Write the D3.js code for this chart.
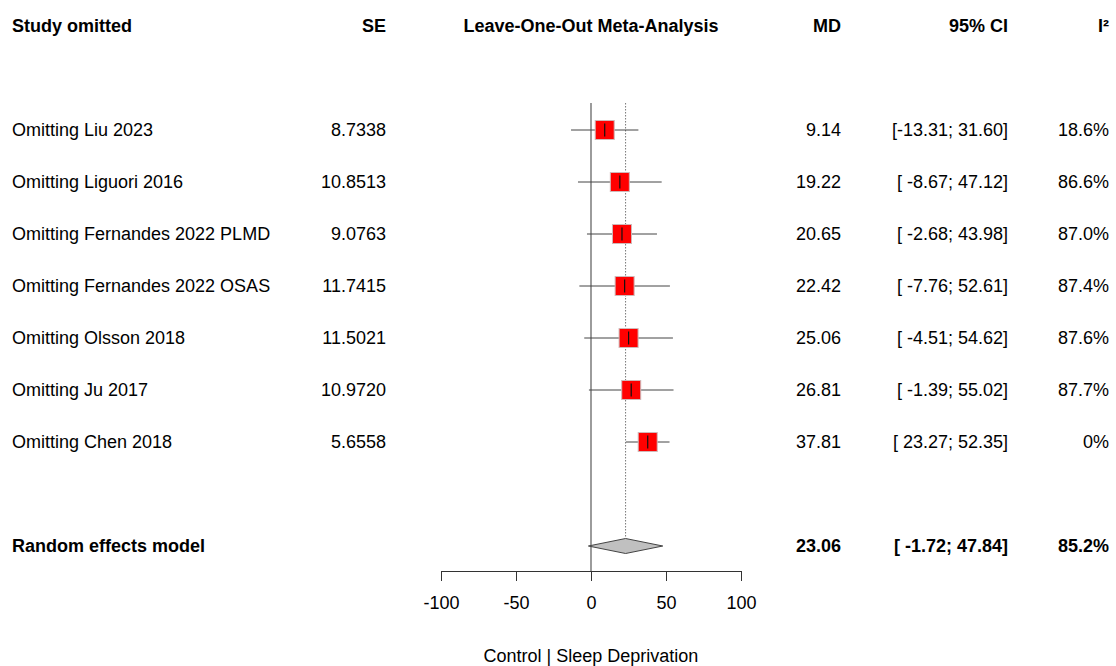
<!DOCTYPE html>
<html>
<head>
<meta charset="utf-8">
<script src="https://cdn.jsdelivr.net/npm/d3@7"></script>
<style>
  body { margin: 0; background: #fff; }
  svg text { font-family: "Liberation Sans", Arial, sans-serif; font-size: 18px; fill: #000; }
  .bold { font-weight: bold; }
</style>
</head>
<body>
<div id="chart"></div>
<script>
// data
const studies = ["Omitting Liu 2023", "Omitting Liguori 2016", "Omitting Fernandes 2022 PLMD",
  "Omitting Fernandes 2022 OSAS", "Omitting Olsson 2018", "Omitting Ju 2017", "Omitting Chen 2018"];
const seValues = [8.7338, 10.8513, 9.0763, 11.7415, 11.5021, 10.9720, 5.6558];
const mdValues = [9.14, 19.22, 20.65, 22.42, 25.06, 26.81, 37.81];
const lowerCI = [-13.31, -8.67, -2.68, -7.76, -4.51, -1.39, 23.27];
const upperCI = [31.60, 47.12, 43.98, 52.61, 54.62, 55.02, 52.35];
const i2Values = [18.6, 86.6, 87.0, 87.4, 87.6, 87.7, 0];

const pooled = { label: "Random effects model", md: 23.06, lower: -1.72, upper: 47.84, i2: 85.2 };
const axisTicks = [-100, -50, 0, 50, 100];
const headers = { study: "Study omitted", se: "SE", plot: "Leave-One-Out Meta-Analysis", md: "MD", ci: "95% CI", i2: "I²" };
const xLabel = "Control | Sleep Deprivation";

const W = 1116, H = 666;
const svg = d3.select("#chart").append("svg").attr("width", W).attr("height", H);

const x = d3.scaleLinear().domain([-100, 100]).range([441, 741]);
// row index: header = -2, studies 0..6, pooled = 8
const y = d3.scaleLinear().domain([0, 1]).range([130, 182]);

const col = { study: 12, se: 386, md: 841, ci: 1008, i2: 1109 };
const fmtCI = (lo, hi) => "[" + lo.toFixed(2).padStart(6, " ") + "; " + hi.toFixed(2) + "]";
const fmtI2 = v => v === 0 ? "0%" : v.toFixed(1) + "%";

// headers
const hy = y(-2);
const head = svg.append("g").attr("class", "bold");
head.append("text").attr("x", col.study).attr("y", hy).attr("dy", "0.35em").text(headers.study);
head.append("text").attr("x", col.se).attr("y", hy).attr("dy", "0.35em").attr("text-anchor", "end").text(headers.se);
head.append("text").attr("x", x(0)).attr("y", hy).attr("dy", "0.35em").attr("text-anchor", "middle").text(headers.plot);
head.append("text").attr("x", col.md).attr("y", hy).attr("dy", "0.35em").attr("text-anchor", "end").text(headers.md);
head.append("text").attr("x", col.ci).attr("y", hy).attr("dy", "0.35em").attr("text-anchor", "end").text(headers.ci);
head.append("text").attr("x", col.i2).attr("y", hy).attr("dy", "0.35em").attr("text-anchor", "end").text(headers.i2);

// zero line and pooled reference line
const axisY = 571;
svg.append("line")
  .attr("x1", x(0)).attr("x2", x(0)).attr("y1", 103).attr("y2", axisY)
  .attr("stroke", "#666").attr("stroke-width", 1.3);
svg.append("line")
  .attr("x1", x(pooled.md)).attr("x2", x(pooled.md)).attr("y1", 103).attr("y2", y(8) - 8)
  .attr("stroke", "#777").attr("stroke-width", 1).attr("stroke-dasharray", "1.5,1.5");

// study rows
const rows = svg.selectAll(".row").data(studies).enter().append("g").attr("class", "row");

rows.append("text").attr("x", col.study).attr("y", (d, i) => y(i)).attr("dy", "0.35em").text(d => d);
rows.append("text").attr("x", col.se).attr("y", (d, i) => y(i)).attr("dy", "0.35em")
  .attr("text-anchor", "end").text((d, i) => seValues[i].toFixed(4));
rows.append("text").attr("x", col.md).attr("y", (d, i) => y(i)).attr("dy", "0.35em")
  .attr("text-anchor", "end").text((d, i) => mdValues[i].toFixed(2));
rows.append("text").attr("x", col.ci).attr("y", (d, i) => y(i)).attr("dy", "0.35em")
  .attr("text-anchor", "end").text((d, i) => fmtCI(lowerCI[i], upperCI[i]));
rows.append("text").attr("x", col.i2).attr("y", (d, i) => y(i)).attr("dy", "0.35em")
  .attr("text-anchor", "end").text((d, i) => fmtI2(i2Values[i]));

rows.append("line")
  .attr("x1", (d, i) => x(lowerCI[i])).attr("x2", (d, i) => x(upperCI[i]))
  .attr("y1", (d, i) => y(i)).attr("y2", (d, i) => y(i))
  .attr("stroke", "#444").attr("stroke-width", 1);

const sq = 19;
rows.append("rect")
  .attr("x", (d, i) => x(mdValues[i]) - sq / 2).attr("y", (d, i) => y(i) - sq / 2)
  .attr("width", sq).attr("height", sq)
  .attr("fill", "#ff0000").attr("stroke", "#d0b8b8").attr("stroke-width", 1);

rows.append("line")
  .attr("x1", (d, i) => x(mdValues[i])).attr("x2", (d, i) => x(mdValues[i]))
  .attr("y1", (d, i) => y(i) - 6.5).attr("y2", (d, i) => y(i) + 6.5)
  .attr("stroke", "#111").attr("stroke-width", 1.2);

// pooled row
const py = y(8);
const pg = svg.append("g").attr("class", "bold");
pg.append("text").attr("x", col.study).attr("y", py).attr("dy", "0.35em").text(pooled.label);
pg.append("text").attr("x", col.md).attr("y", py).attr("dy", "0.35em").attr("text-anchor", "end").text(pooled.md.toFixed(2));
pg.append("text").attr("x", col.ci).attr("y", py).attr("dy", "0.35em").attr("text-anchor", "end").text(fmtCI(pooled.lower, pooled.upper));
pg.append("text").attr("x", col.i2).attr("y", py).attr("dy", "0.35em").attr("text-anchor", "end").text(fmtI2(pooled.i2));

const dh = 7.5;
svg.append("path")
  .attr("d", d3.line()([[x(pooled.lower), py], [x(pooled.md), py - dh], [x(pooled.upper), py], [x(pooled.md), py + dh]]) + "Z")
  .attr("fill", "#c0c0c0").attr("stroke", "#444").attr("stroke-width", 1);

// x axis
const axis = svg.append("g").attr("transform", `translate(0,${axisY})`)
  .call(d3.axisBottom(x).tickValues(axisTicks).tickFormat(d => String(d))
    .tickSize(10).tickPadding(15).tickSizeOuter(0));
axis.select(".domain").attr("stroke", "#333");
axis.selectAll(".tick line").attr("stroke", "#333");
axis.selectAll(".tick text").style("font-size", "18px").attr("fill", "#000")
  .style("font-family", "'Liberation Sans', Arial, sans-serif");

svg.append("text").attr("x", x(0)).attr("y", 656).attr("dy", "0.35em")
  .attr("text-anchor", "middle").text(xLabel);
</script>
</body>
</html>
